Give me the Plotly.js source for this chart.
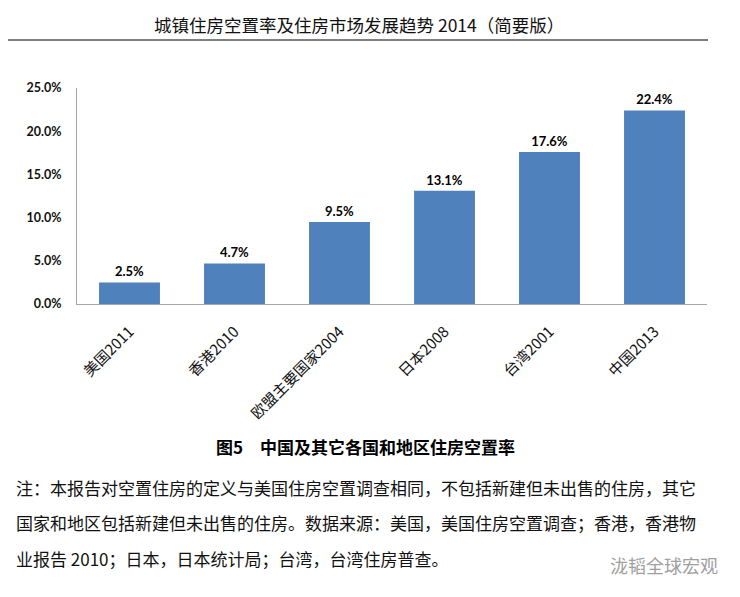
<!DOCTYPE html>
<html>
<head>
<meta charset="utf-8">
<script src="https://cdn.plot.ly/plotly-3.0.1.min.js"></script>
<style>
  html, body { margin: 0; padding: 0; background: #ffffff; }
  #chart { width: 740px; height: 597px; }
</style>
</head>
<body>
<div id="chart"></div>
<script>
const categories = ['美国2011', '香港2010', '欧盟主要国家2004', '日本2008', '台湾2001', '中国2013'];
const vacancyRates = [2.5, 4.7, 9.5, 13.1, 17.6, 22.4];
const yTicks = [0, 5, 10, 15, 20, 25];

const pageTitle = '城镇住房空置率及住房市场发展趋势 2014（简要版）';
const figureCaption = '图5　中国及其它各国和地区住房空置率';
const noteLines = [
    '注：本报告对空置住房的定义与美国住房空置调查相同，不包括新建但未出售的住房，其它',
    '国家和地区包括新建但未出售的住房。数据来源：美国，美国住房空置调查；香港，香港物',
    '业报告 2010；日本，日本统计局；台湾，台湾住房普查。',
];
const watermark = '泷韬全球宏观';

// plot area in page pixels
const plotTop = 88;
const plotBottom = 304;
const plotLeft = 77;
const plotRight = 707;

// page pixel -> paper coordinates
function px(x) { return (x - plotLeft) / (plotRight - plotLeft); }
function py(y) { return (plotBottom - y) / (plotBottom - plotTop); }

const cjk = '"Noto Sans CJK SC", "Noto Sans", sans-serif';
const numFont = 'Lato, "Open Sans", "Liberation Sans", sans-serif';

let data = [
    {
        type: 'bar',
        x: categories,
        y: vacancyRates,
        marker: {
            color: '#4f81bd',
        },
        texttemplate: '<b>%{y:.1f}%</b>',
        textposition: 'outside',
        cliponaxis: false,
        textfont: {
            family: numFont,
            size: 13,
            color: '#000000',
        },
        hoverinfo: 'skip',
    },
];

function note(text, x, y, size, opts) {
    return Object.assign({
        xref: 'paper', yref: 'paper',
        x: px(x), y: py(y),
        xanchor: 'center', yanchor: 'middle',
        text: text,
        showarrow: false,
        font: { family: cjk, size: size, color: '#111111' },
    }, opts || {});
}

let annotations = [
    note(pageTitle, 359, 24, 17.5),
    note('<b>' + figureCaption + '</b>', 365, 446, 17, { font: { family: cjk, size: 17, color: '#000000' } }),
    note(watermark, 664, 565, 18, { font: { family: cjk, size: 18, color: '#a0a0a0' } }),
];

noteLines.forEach((line, i) => {
    annotations.push(note(line, 14, 487 + i * 35.5, 17, { xanchor: 'left' }));
});

let layout = {
    width: 740,
    height: 597,
    showlegend: false,
    paper_bgcolor: '#ffffff',
    plot_bgcolor: '#ffffff',
    bargap: 0.42,

    margin: {
        l: plotLeft,
        r: 740 - plotRight,
        t: plotTop,
        b: 597 - plotBottom,
        pad: 0,
    },

    xaxis: {
        type: 'category',
        tickangle: -45,
        showline: true,
        linecolor: '#a6a6a6',
        linewidth: 1,
        ticks: '',
        ticklabelstandoff: 12,
        showgrid: false,
        tickfont: { family: cjk, size: 15, color: '#111111' },
    },

    yaxis: {
        range: [0, 25],
        tickmode: 'array',
        tickvals: yTicks,
        ticktext: yTicks.map((v) => '<b>' + v.toFixed(1) + '%</b>'),
        showline: true,
        linecolor: '#a6a6a6',
        linewidth: 1,
        ticks: '',
        ticklabelstandoff: 12,
        showgrid: false,
        zeroline: false,
        tickfont: { family: numFont, size: 12.5, color: '#111111' },
    },

    annotations: annotations,

    shapes: [
        {
            type: 'line',
            xref: 'paper', yref: 'paper',
            x0: px(8), x1: px(708),
            y0: py(40), y1: py(40),
            line: { color: '#000000', width: 1 },
        },
    ],
};

let config = {
    staticPlot: true,
};

Plotly.newPlot(document.getElementById('chart'), data, layout, config);
</script>
</body>
</html>
